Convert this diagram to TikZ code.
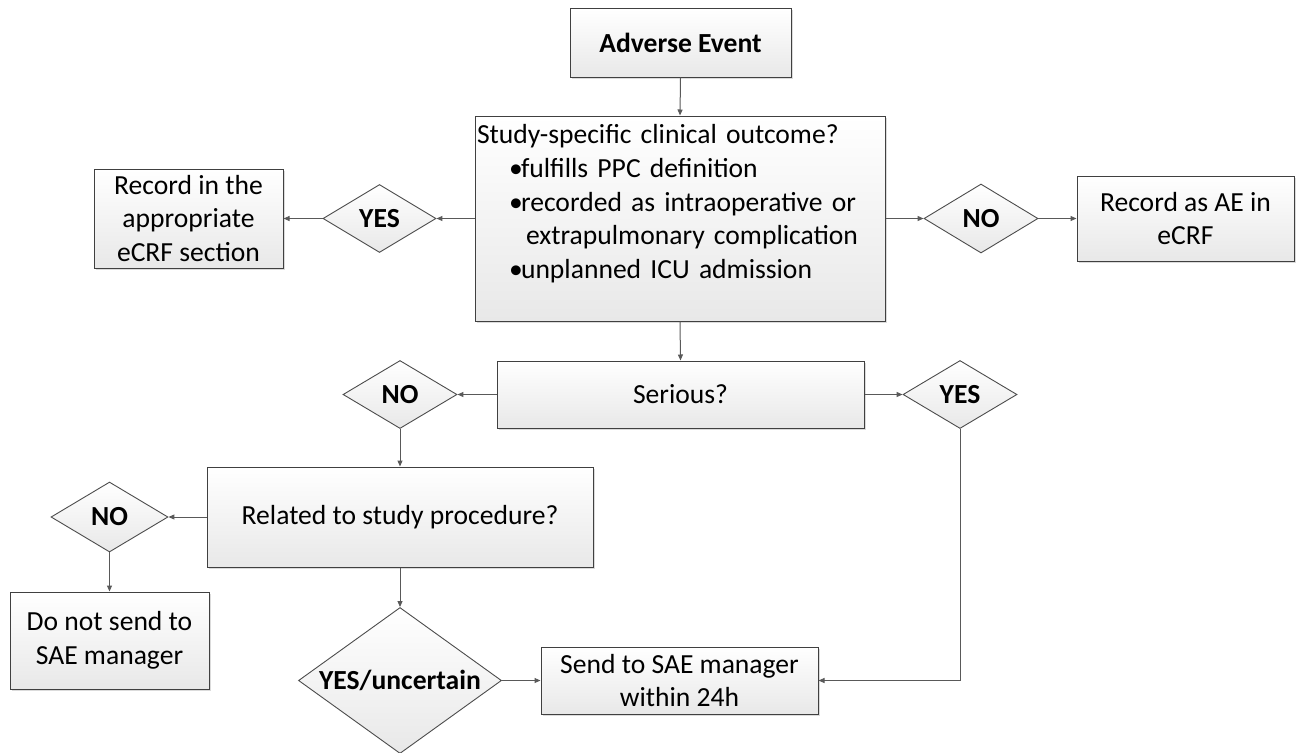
\documentclass[tikz,border=0pt]{standalone}
\usepackage{fontspec}
\setmainfont{Carlito}
\usetikzlibrary{shapes.geometric,arrows.meta,shadows}
\begin{document}
\begin{tikzpicture}[x=1pt,y=-1pt,
  every node/.style={font=\fontsize{27.6}{33.7}\selectfont},
  box/.style={draw=black!75, line width=1pt, rectangle, top color=white, bottom color=black!9,
    drop shadow={shadow xshift=1.5pt, shadow yshift=-1.5pt, opacity=0.35, fill=black!40},
    inner sep=0pt, align=center},
  dia/.style={draw=black!70, line width=0.9pt, diamond, top color=white, bottom color=black!9,
    inner sep=0pt, font=\fontsize{27.6}{33.7}\selectfont\bfseries},
  conn/.style={draw=black!65, line width=1pt, -{Triangle[length=6pt,width=5pt]}}
]
\useasboundingbox (0,0) rectangle (1297,752);

% boxes
\node[box, minimum width=221pt, minimum height=68pt, font=\fontsize{27.6}{33.7}\selectfont\bfseries] (ae) at (680.5,43) {Adverse Event};
\node[box, minimum width=410pt, minimum height=205pt, text width=406pt, inner xsep=2pt, align=left] (main) at (680,218.5)
 {\mbox{Study-specific clinical outcome?}\\
  \mbox{\hspace*{32pt}\makebox[12pt][l]{•}fulfills PPC definition}\\
  \mbox{\hspace*{32pt}\makebox[12pt][l]{•}recorded as intraoperative or}\\
  \mbox{\hspace*{49pt}extrapulmonary complication}\\
  \mbox{\hspace*{32pt}\makebox[12pt][l]{•}unplanned ICU admission}\\
  \mbox{}};
\node[box, minimum width=189pt, minimum height=99pt] (recin) at (188.5,218.5) {Record in the\\appropriate\\eCRF section};
\node[box, minimum width=217pt, minimum height=85pt] (recae) at (1185.5,218.5) {Record as AE in\\eCRF};
\node[box, minimum width=367pt, minimum height=67pt] (serious) at (680.5,394.5) {Serious?};
\node[box, minimum width=386pt, minimum height=100pt] (related) at (400,517) {Related to study procedure?};
\node[box, minimum width=199pt, minimum height=97pt] (donot) at (109.5,640.5) {Do not send to\\SAE manager};
\node[box, minimum width=277pt, minimum height=67pt] (sae) at (679.5,680.5) {Send to SAE manager\\within 24h};

% diamonds
\node[dia, shape aspect=1.66, minimum width=113pt, minimum height=68pt] (yesL) at (379.5,218.5) {YES};
\node[dia, shape aspect=1.66, minimum width=114pt, minimum height=69pt] (noR) at (981,218.5) {NO};
\node[dia, shape aspect=1.66, minimum width=114pt, minimum height=68pt] (noS) at (400,394.5) {NO};
\node[dia, shape aspect=1.66, minimum width=114pt, minimum height=68pt] (yesS) at (960,394.5) {YES};
\node[dia, shape aspect=1.66, minimum width=117pt, minimum height=70pt] (noR2) at (109.5,517) {NO};
\node[dia, shape aspect=1.39, minimum width=203pt, minimum height=146pt] (yesunc) at (400,680.5) {YES/uncertain};

% connectors
\draw[conn] (ae.south) -- (main.north);
\draw[conn] (main.west) -- (yesL.east);
\draw[conn] (yesL.west) -- (recin.east);
\draw[conn] (main.east) -- (noR.west);
\draw[conn] (noR.east) -- (recae.west);
\draw[conn] (main.south) -- (serious.north);
\draw[conn] (serious.west) -- (noS.east);
\draw[conn] (serious.east) -- (yesS.west);
\draw[conn] (noS.south) -- (related.north);
\draw[conn] (related.west) -- (noR2.east);
\draw[conn] (noR2.south) -- (donot.north);
\draw[conn] (related.south) -- (yesunc.north);
\draw[conn] (yesunc.east) -- (sae.west);
\draw[conn] (yesS.south) |- (sae.east);
\end{tikzpicture}
\end{document}
